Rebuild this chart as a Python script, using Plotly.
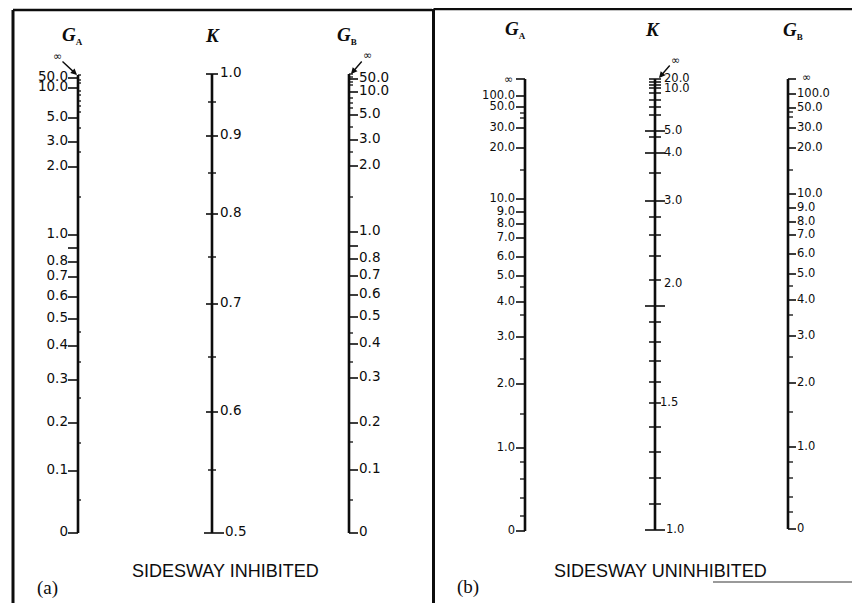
import plotly.graph_objects as go

# ---------------- DATA (tick values and their read positions on each scale) ----------------
# Panel (a) SIDESWAY INHIBITED
a_ga_labels = ["50.0", "10.0", "5.0", "3.0", "2.0", "1.0", "0.8", "0.7", "0.6", "0.5", "0.4", "0.3", "0.2", "0.1", "0"]
a_ga_pos    = [78, 88, 118, 142, 167, 235, 262, 277, 297, 319, 346, 380, 423, 471, 533]
a_ga_long   = [248]                       # unlabeled 0.9 tick
a_ga_minor  = [75, 80, 83, 91, 95, 101, 106, 112, 128, 152, 197, 332, 362, 398, 443, 500]

a_k_labels = ["1.0", "0.9", "0.8", "0.7", "0.6", "0.5"]
a_k_pos    = [74, 136, 214, 304, 412, 533]
a_k_minor  = [102, 173, 257, 357, 470]

a_gb_labels = ["50.0", "10.0", "5.0", "3.0", "2.0", "1.0", "0.8", "0.7", "0.6", "0.5", "0.4", "0.3", "0.2", "0.1", "0"]
a_gb_pos    = [79, 92, 115, 140, 166, 232, 259, 276, 295, 317, 344, 378, 423, 470, 533]
a_gb_long   = [246]                       # unlabeled 0.9 tick
a_gb_minor  = [74, 77, 82, 85, 98, 103, 108, 127, 152, 197, 333, 362, 442, 500]

# Panel (b) SIDESWAY UNINHIBITED
b_ga_inf    = [79]
b_ga_labels = ["100.0", "50.0", "30.0", "20.0", "10.0", "9.0", "8.0", "7.0", "6.0", "5.0", "4.0", "3.0", "2.0", "1.0", "0"]
b_ga_pos    = [96, 107, 128, 148, 199, 212, 224, 238, 257, 276, 302, 337, 384, 448, 531]
b_ga_minor  = [113, 118, 170, 287, 315, 359, 414, 462, 479, 498, 516]

b_k_labels = ["20.0", "10.0", "5.0", "4.0", "3.0", "2.0", "1.5", "1.0"]
b_k_pos    = [79, 89, 131, 153, 201, 284, 403, 530]
b_k_long   = [131, 153, 201, 306, 530]
b_k_minor  = [79, 82, 85, 88, 93, 100, 107, 115, 137, 173, 217, 235, 256, 280, 322, 342, 361, 382, 403, 427, 452, 478, 504]

b_gb_inf    = [79]
b_gb_labels = ["100.0", "50.0", "30.0", "20.0", "10.0", "9.0", "8.0", "7.0", "6.0", "5.0", "4.0", "3.0", "2.0", "1.0", "0"]
b_gb_pos    = [94, 108, 128, 148, 194, 208, 222, 235, 254, 274, 300, 336, 383, 447, 529]
b_gb_minor  = [112, 117, 170, 286, 315, 357, 412, 462, 478, 497, 512]

# ---------------- DRAWING ----------------
INK = "#0d0d0d"
SANS = "DejaVu Sans, Verdana, sans-serif"
CAP = "Liberation Sans, Arial, sans-serif"
SERIF = "Liberation Serif, Times New Roman, serif"

fig = go.Figure()


def axis_line(xc, ys, w=2.6):
    fig.add_trace(go.Scatter(x=[xc, xc], y=[min(ys), max(ys)], mode="lines",
                             line=dict(color=INK, width=w), hoverinfo="skip", showlegend=False))


def ticks(xc, ys, x0, x1, w=1.6):
    xs, yy = [], []
    for y in ys:
        xs += [xc + x0, xc + x1, None]
        yy += [y, y, None]
    fig.add_trace(go.Scatter(x=xs, y=yy, mode="lines", line=dict(color=INK, width=w),
                             hoverinfo="skip", showlegend=False))


def labels(x, ys, texts, side, size):
    fig.add_trace(go.Scatter(x=[x] * len(ys), y=ys, mode="text", text=texts,
                             textposition="middle left" if side == "left" else "middle right",
                             textfont=dict(family=SANS, size=size, color=INK),
                             hoverinfo="skip", showlegend=False))


# (a) G_A scale
xa = 78
axis_line(xa, a_ga_pos + a_ga_minor)
ticks(xa, a_ga_pos + a_ga_long, -10, 0)
ticks(xa, a_ga_minor, 0, 3, 1.3)
labels(xa - 10, a_ga_pos, a_ga_labels, "left", 13.5)

# (a) K scale
xk = 212
axis_line(xk, a_k_pos)
ticks(xk, a_k_pos[:-1], -6, 6)
ticks(xk, a_k_pos[-1:], -8, 12)
ticks(xk, a_k_minor, -4, 4, 1.4)
labels(xk + 8, a_k_pos[:-1], a_k_labels[:-1], "right", 13.5)
labels(xk + 13, a_k_pos[-1:], a_k_labels[-1:], "right", 13.5)

# (a) G_B scale
xb = 349
axis_line(xb, a_gb_pos + a_gb_minor)
ticks(xb, a_gb_pos + a_gb_long, 0, 9)
ticks(xb, a_gb_minor, 0, 4, 1.3)
labels(xb + 10, a_gb_pos, a_gb_labels, "right", 13.5)

# (b) G_A scale
xa2 = 525
axis_line(xa2, b_ga_inf + b_ga_pos)
ticks(xa2, b_ga_inf + b_ga_pos, -9, 0)
ticks(xa2, b_ga_minor, -5, 0, 1.3)
labels(xa2 - 10, b_ga_pos, b_ga_labels, "left", 11.5)

# (b) K scale
xk2 = 655
axis_line(xk2, b_k_pos)
ticks(xk2, b_k_long, -10, 10)
ticks(xk2, b_k_minor, -6, 6, 1.5)
labels(xk2 + 9, b_k_pos[:-2], b_k_labels[:-2], "right", 11.5)
labels(xk2 + 5, b_k_pos[-2:-1], b_k_labels[-2:-1], "right", 11.5)
labels(xk2 + 11, b_k_pos[-1:], b_k_labels[-1:], "right", 11.5)

# (b) G_B scale
xb2 = 788
axis_line(xb2, b_gb_inf + b_gb_pos)
ticks(xb2, b_gb_inf + b_gb_pos, 0, 8)
ticks(xb2, b_gb_minor, 0, 5, 1.3)
labels(xb2 + 9, b_gb_pos, b_gb_labels, "right", 11.5)

# page body has an 8px margin: offset the figure so data units equal page pixels
OFF = 8
fig.update_xaxes(range=[OFF, 860], visible=False, fixedrange=True)
fig.update_yaxes(range=[603, OFF], visible=False, fixedrange=True)

# Frame
frame = [
    (13, 10, 13, 603, 3), (13, 10, 432, 10, 2.5),
    (433.5, 9, 433.5, 603, 3), (433.5, 9, 860, 9, 2.5),
]
shapes = [dict(type="line", xref="x", yref="y", x0=a, y0=b, x1=c, y1=d,
               line=dict(color=INK, width=w)) for a, b, c, d, w in frame]
shapes.append(dict(type="line", xref="x", yref="y", x0=713, y0=582, x1=860, y1=582,
                   line=dict(color="#9a9a9a", width=2)))

ann = []


def txt(x, y, t, size, family=SANS, **kw):
    ann.append(dict(x=x, y=y, xref="x", yref="y", text=t, showarrow=False,
                    font=dict(family=family, size=size, color=INK), **kw))


def arrow(x0, y0, x1, y1):
    ann.append(dict(x=x1, y=y1, ax=x0, ay=y0, xref="x", yref="y", axref="x", ayref="y",
                    text="", showarrow=True, arrowhead=2, arrowsize=0.9, arrowwidth=1.4,
                    arrowcolor=INK, standoff=0, startstandoff=0))


SUB = '<sub><span style="font-size:9px"><b>%s</b></span></sub>'
# Titles
for x, y, t in [(72, 35, "<b><i>G</i></b>" + SUB % "A"), (212, 35, "<b><i>K</i></b>"),
                (347, 35, "<b><i>G</i></b>" + SUB % "B"),
                (515, 29, "<b><i>G</i></b>" + SUB % "A"), (652, 29, "<b><i>K</i></b>"),
                (793, 30, "<b><i>G</i></b>" + SUB % "B")]:
    txt(x, y, t, 19, SERIF)

# infinity marks
txt(57, 56, "∞", 11)
arrow(61, 60, 77, 75)
txt(367, 55, "∞", 11)
arrow(363, 60, 351, 74)
txt(675, 60, "∞", 11)
arrow(671, 64, 659, 78)
txt(508, 79, "∞", 11)
txt(806, 77, "∞", 11)

# captions
txt(225, 571, "SIDESWAY INHIBITED", 18, CAP)
txt(660, 571, "SIDESWAY UNINHIBITED", 18, CAP)
txt(47, 588, "(a)", 19, SERIF)
txt(468, 587, "(b)", 19, SERIF)

fig.update_layout(width=860 - OFF, height=603 - OFF, margin=dict(l=0, r=0, t=0, b=0),
                  paper_bgcolor="white", plot_bgcolor="white", showlegend=False,
                  shapes=shapes, annotations=ann)

fig.write_html("out.html")
